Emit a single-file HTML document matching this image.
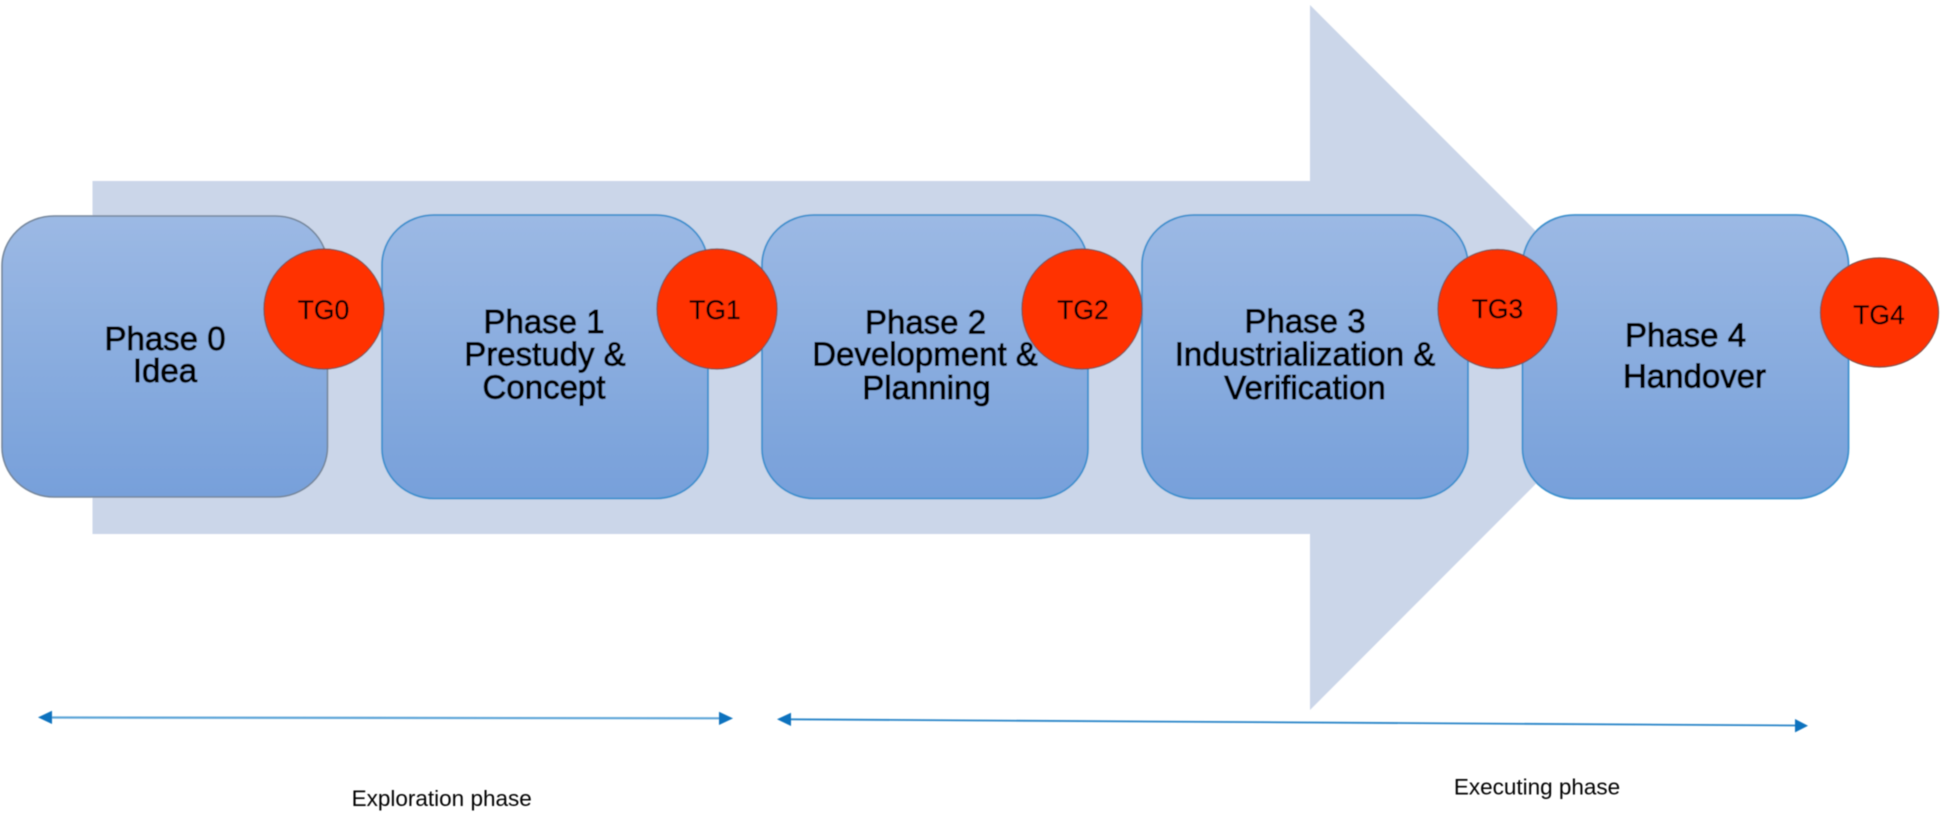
<!DOCTYPE html>
<html lang="en">
<head>
<meta charset="utf-8">
<title>Phases diagram</title>
<style>
html,body{margin:0;padding:0;background:#fff;width:1943px;height:816px;overflow:hidden}
svg{display:block}
text{font-family:"Liberation Sans",Arial,sans-serif;fill:#000}
.p{font-size:33px;text-anchor:middle;stroke:#000;stroke-width:.9px}
.t{font-size:26.5px;text-anchor:middle;stroke:#000;stroke-width:.25px}
.l{font-size:22.5px;text-anchor:middle}
</style>
</head>
<body>
<svg width="1943" height="816" viewBox="0 0 1943 816" xmlns="http://www.w3.org/2000/svg">
<defs>
<linearGradient id="g" x1="0" y1="0" x2="0" y2="1">
<stop offset="0" stop-color="#9CB9E4"/>
<stop offset="1" stop-color="#77A0DA"/>
</linearGradient>
<filter id="b" x="-2%" y="-2%" width="104%" height="104%"><feGaussianBlur stdDeviation="0.55"/></filter>
</defs>
<g filter="url(#b)">
<polygon points="92.5,181 1310,181 1310,5 1662,357.5 1310,710 1310,534 92.5,534" fill="#CBD6E9"/>

<rect x="2" y="216" width="325.5" height="281" rx="52" ry="50" fill="url(#g)" stroke="#76879C" stroke-width="1.6"/>
<rect x="382" y="215" width="326" height="283.5" rx="52" ry="50" fill="url(#g)" stroke="#3E91CE" stroke-width="1.8"/>
<rect x="762" y="215" width="326" height="283.5" rx="52" ry="50" fill="url(#g)" stroke="#3E91CE" stroke-width="1.8"/>
<rect x="1142" y="215" width="326" height="283.5" rx="52" ry="50" fill="url(#g)" stroke="#3E91CE" stroke-width="1.8"/>
<rect x="1522.5" y="215" width="326" height="283.5" rx="52" ry="50" fill="url(#g)" stroke="#3E91CE" stroke-width="1.8"/>

<text class="p" x="165" y="350">Phase 0</text>
<text class="p" x="165" y="382">Idea</text>

<text class="p" x="544" y="333">Phase 1</text>
<text class="p" x="545" y="365.5">Prestudy &amp;</text>
<text class="p" x="544" y="398.5">Concept</text>

<text class="p" x="925.5" y="333.3">Phase 2</text>
<text class="p" x="925" y="365.7">Development &amp;</text>
<text class="p" x="926.5" y="399">Planning</text>

<text class="p" x="1305" y="332.7">Phase 3</text>
<text class="p" x="1305" y="365.7">Industrialization &amp;</text>
<text class="p" x="1305" y="399">Verification</text>

<text class="p" x="1685.5" y="346.7">Phase 4</text>
<text class="p" x="1694.5" y="387.7">Handover</text>

<circle cx="324" cy="309" r="60" fill="#FF3300" stroke="#7D4A3A" stroke-width="1.2"/>
<circle cx="717" cy="309" r="60" fill="#FF3300" stroke="#7D4A3A" stroke-width="1.2"/>
<circle cx="1082" cy="309" r="60" fill="#FF3300" stroke="#7D4A3A" stroke-width="1.2"/>
<circle cx="1497.5" cy="309" r="59.5" fill="#FF3300" stroke="#7D4A3A" stroke-width="1.2"/>
<ellipse cx="1879.5" cy="312.5" rx="59" ry="54.5" fill="#FF3300" stroke="#7D4A3A" stroke-width="1.2"/>

<text class="t" x="323.5" y="319">TG0</text>
<text class="t" x="715" y="319">TG1</text>
<text class="t" x="1083" y="319">TG2</text>
<text class="t" x="1497.5" y="318">TG3</text>
<text class="t" x="1879" y="324">TG4</text>

<line x1="50" y1="717.5" x2="722" y2="718.3" stroke="#5FA6D8" stroke-width="2.2"/>
<polygon points="38,717.4 52,710.8 52,724 " fill="#0B72BE"/>
<polygon points="733,718.4 719,711.8 719,725 " fill="#0B72BE"/>

<line x1="788" y1="719.3" x2="1797" y2="725.5" stroke="#2A85C8" stroke-width="1.8"/>
<polygon points="777,719.3 791,712.7 791,726 " fill="#0B72BE"/>
<polygon points="1808,725.7 1795,719 1795,732.4 " fill="#0B72BE"/>

<text class="l" x="441.7" y="806">Exploration phase</text>
<text class="l" x="1537" y="794.7">Executing phase</text>
</g>
</svg>
</body>
</html>
